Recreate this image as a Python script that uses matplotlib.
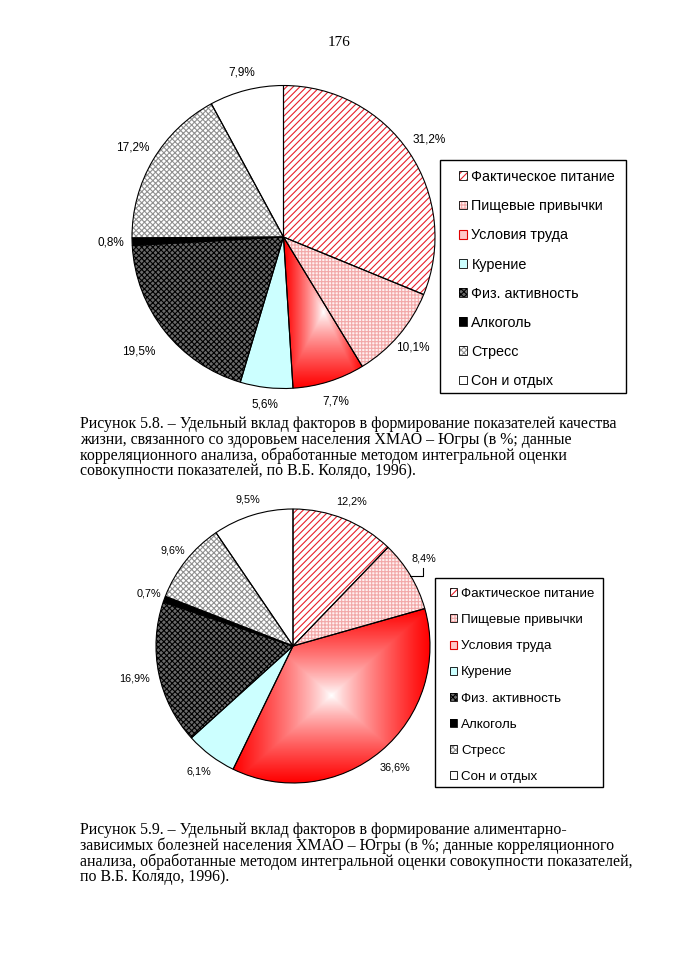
import matplotlib.pyplot as plt
import numpy as np
from matplotlib.patches import Patch, Rectangle
from matplotlib.colors import LinearSegmentedColormap

W, H = 678, 960

# Данные
factors = ["Фактическое питание", "Пищевые привычки", "Условия труда", "Курение",
           "Физ. активность", "Алкоголь", "Стресс", "Сон и отдых"]
quality_of_life = [31.2, 10.1, 7.7, 5.6, 19.5, 0.8, 17.2, 7.9]   # рис. 5.8
alimentary = [12.2, 8.4, 36.6, 6.1, 16.9, 0.7, 9.6, 9.5]          # рис. 5.9

page_number = "176"
caption_58 = [
    "Рисунок 5.8. – Удельный вклад факторов в формирование показателей качества",
    "жизни, связанного со здоровьем населения ХМАО – Югры (в %; данные",
    "корреляционного анализа, обработанные методом интегральной оценки",
    "совокупности показателей, по В.Б. Колядо, 1996).",
]
caption_59 = [
    "Рисунок 5.9. – Удельный вклад факторов в формирование алиментарно-",
    "зависимых болезней населения ХМАО – Югры (в %; данные корреляционного",
    "анализа, обработанные методом интегральной оценки совокупности показателей,",
    "по В.Б. Колядо, 1996).",
]

# заливка: цвет фона, штриховка, цвет штриховки
styles = [
    ("white", "/////", "#e8202a"),
    ("#fff0f0", "+++++", "#f2a8a8"),
    ("gradient", "", None),
    ("#ccffff", "", None),
    ("#6a6a6a", "xxxxxx", "black"),
    ("black", "", None),
    ("white", "xxxxxx", "#909090"),
    ("white", "", None),
]

plt.rcParams['hatch.linewidth'] = 0.8
red_white = LinearSegmentedColormap.from_list("rw", ["white", "#ff0000"])

fig = plt.figure(figsize=(W / 100, H / 100), dpi=100)
ax = fig.add_axes([0, 0, 1, 1])


def fill_gradient(wedge):
    bb = wedge.get_path().get_extents()
    gx, gy = np.meshgrid(np.linspace(-1, 1, 200), np.linspace(-1, 1, 200))
    t = np.maximum(np.abs(gx), np.abs(gy))
    im = ax.imshow(t ** 0.8, cmap=red_white, extent=(bb.x0, bb.x1, bb.y1, bb.y0),
                   interpolation='bilinear', zorder=1.5, aspect='auto')
    im.set_clip_path(wedge)


def draw_pie(values, center, radius, dists, fsize, leader=None):
    wedges, _ = ax.pie(values, center=center, radius=radius, startangle=-90,
                       counterclock=True, wedgeprops=dict(linewidth=0))
    for w, (fc, hatch, hc) in zip(wedges, styles):
        if fc == "gradient":
            w.set_facecolor("red")
            fill_gradient(w)
        else:
            w.set_facecolor(fc)
            w.set_hatch(hatch)
            w.set_edgecolor(hc or fc)
    ax.pie(values, center=center, radius=radius, startangle=-90, counterclock=True,
           colors=["none"] * len(values),
           wedgeprops=dict(linewidth=0.8, edgecolor="black", zorder=3))
    for i, (w, v, d) in enumerate(zip(wedges, values, dists)):
        ang = np.deg2rad((w.theta1 + w.theta2) / 2)
        txt = f"{v:.1f}%".replace(".", ",")
        if leader is not None and leader[0] == i:
            ex = center[0] + radius * np.cos(ang)
            ey = center[1] + radius * np.sin(ang)
            dx, dy = leader[1]
            ax.plot([ex, ex + dx, ex + dx], [ey, ey, ey + dy + 9], color="black", lw=0.8)
            ax.text(ex + dx, ey + dy, txt, ha="center", va="center",
                    family="Liberation Sans", fontsize=fsize)
            continue
        x = center[0] + d * radius * np.cos(ang)
        y = center[1] + d * radius * np.sin(ang)
        ax.text(x, y, txt, ha="center", va="center",
                family="Liberation Sans", fontsize=fsize)


def legend_handles():
    hs = []
    for fc, hatch, hc in styles:
        if fc == "gradient":
            hs.append(Patch(facecolor="#ffc8c8", edgecolor="#e00000", lw=0.8))
        else:
            hs.append((Patch(facecolor=fc, hatch=hatch, edgecolor=hc or fc, lw=0),
                       Patch(facecolor="none", edgecolor="black", lw=0.6)))
    return hs


def draw_legend(box, anchor, fsize, spacing, hsize):
    fig.legend(legend_handles(), factors, loc="upper left",
               bbox_to_anchor=(anchor[0] / W, 1 - anchor[1] / H),
               frameon=False, borderpad=0, borderaxespad=0,
               handlelength=hsize, handleheight=hsize, handletextpad=0.3,
               labelspacing=spacing,
               prop=dict(family="Liberation Sans", size=fsize))
    ax.add_patch(Rectangle((box[0], box[1]), box[2], box[3], fill=False,
                           edgecolor="black", lw=1.0, zorder=4))


# Рисунок 5.8
draw_pie(quality_of_life, (283.5, 237), 151.5,
         [1.16, 1.12, 1.14, 1.11, 1.22, 1.14, 1.155, 1.12], 8.5)
draw_legend((440, 160, 186, 233), (459, 170), 10.4, 1.05, 0.56)

# Рисунок 5.9
draw_pie(alimentary, (293, 646), 137,
         [1.14, 1.0, 1.16, 1.15, 1.18, 1.12, 1.125, 1.12], 7.8,
         leader=(1, (13, -17)))
draw_legend((435, 578, 168, 209), (450, 588), 9.6, 1.06, 0.54)

ax.text(339, 42, page_number, ha="center", va="center",
        family="Liberation Serif", fontsize=11)
for k, line in enumerate(caption_58):
    ax.text(80, 424 + 15.8 * k, line, ha="left", va="center",
            family="Liberation Serif", fontsize=11.4)
for k, line in enumerate(caption_59):
    ax.text(80, 830 + 15.8 * k, line, ha="left", va="center",
            family="Liberation Serif", fontsize=11.4)

ax.set_xlim(0, W)
ax.set_ylim(H, 0)
ax.axis("off")
fig.savefig("out.png", dpi=100, facecolor="white")
